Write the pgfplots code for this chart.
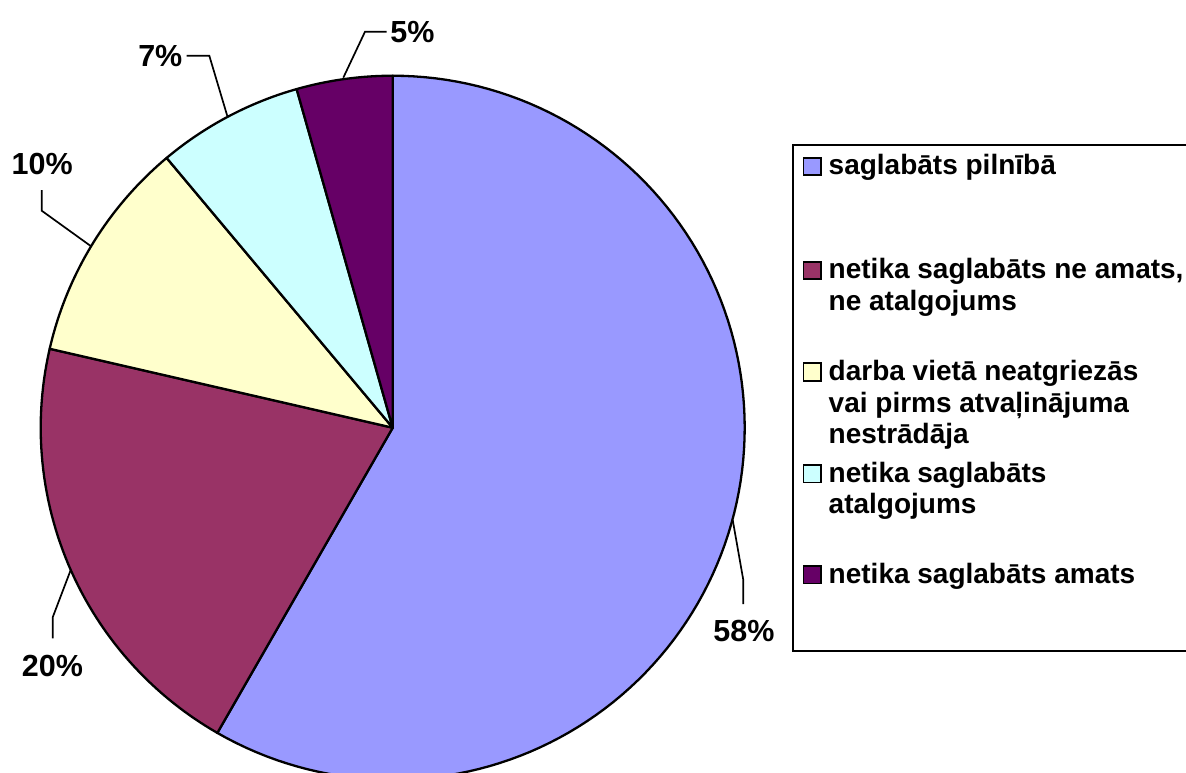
\documentclass[border=0pt]{standalone}
\usepackage{pgfplots}
\pgfplotsset{compat=1.18}
\usepackage{fontspec}
\setmainfont{Liberation Sans}
\definecolor{cLav}{HTML}{9999FF}
\definecolor{cMar}{HTML}{993366}
\definecolor{cYel}{HTML}{FFFFCC}
\definecolor{cCya}{HTML}{CCFFFF}
\definecolor{cPur}{HTML}{660066}
% shares (percent), clockwise from 12 o'clock
\def\vA{58.3}\def\vB{20.3}\def\vC{10.3}\def\vD{6.7}\def\vE{4.4}
\pgfmathsetmacro{\aA}{90-3.6*\vA}
\pgfmathsetmacro{\aB}{\aA-3.6*\vB}
\pgfmathsetmacro{\aC}{\aB-3.6*\vC}
\pgfmathsetmacro{\aD}{\aC-3.6*\vD}
\pgfmathsetmacro{\aE}{\aD-3.6*\vE}
\newcommand{\lab}{\fontsize{15.25}{18}\selectfont\bfseries}
\newcommand{\leg}{\fontsize{14}{15.85}\selectfont\bfseries}
\begin{document}
\begin{tikzpicture}[x=0.5pt,y=-0.5pt]
\useasboundingbox (0,0) rectangle (1186,772);
\clip (0,0) rectangle (1186,772);
\begin{axis}[at={(196.35pt,-213.85pt)}, anchor=origin,
  x=176pt, y=176pt, xmin=-1.05, xmax=1.05, ymin=-1.05, ymax=1.05,
  hide axis, clip=false]
\addplot[fill=cLav, draw=black, line width=1.15pt, line join=round, domain=\aA:90, samples=120, variable=\t] ({cos(\t)},{sin(\t)}) -- (axis cs:0,0) -- cycle;
\addplot[fill=cMar, draw=black, line width=1.15pt, line join=round, domain=\aB:\aA, samples=60, variable=\t] ({cos(\t)},{sin(\t)}) -- (axis cs:0,0) -- cycle;
\addplot[fill=cYel, draw=black, line width=1.15pt, line join=round, domain=\aC:\aB, samples=40, variable=\t] ({cos(\t)},{sin(\t)}) -- (axis cs:0,0) -- cycle;
\addplot[fill=cCya, draw=black, line width=1.15pt, line join=round, domain=\aD:\aC, samples=30, variable=\t] ({cos(\t)},{sin(\t)}) -- (axis cs:0,0) -- cycle;
\addplot[fill=cPur, draw=black, line width=1.15pt, line join=round, domain=\aE:\aD, samples=30, variable=\t] ({cos(\t)},{sin(\t)}) -- (axis cs:0,0) -- cycle;
\end{axis}
% leader lines
\draw[line width=0.85pt] (732.7,520) -- (743.3,580) -- (743.3,604);
\draw[line width=0.85pt] (343.3,77.7) -- (365,31.7) -- (386.7,31.7);
\draw[line width=0.85pt] (227.3,116) -- (209.3,55.7) -- (186.7,55.7);
\draw[line width=0.85pt] (90.7,246) -- (41.7,210.7) -- (41.7,190);
\draw[line width=0.85pt] (70.7,570) -- (52.7,617.3) -- (52.7,638.3);
% data labels
\node[anchor=base, inner sep=0] at (744,641.7) {\lab 58\%};
\node[anchor=base, inner sep=0] at (52.5,676) {\lab 20\%};
\node[anchor=base, inner sep=0] at (42.2,174) {\lab 10\%};
\node[anchor=base, inner sep=0] at (160.3,66.7) {\lab 7\%};
\node[anchor=base, inner sep=0] at (412.5,42.7) {\lab 5\%};
% legend
\draw[line width=0.95pt] (1200,145) -- (793.3,145) -- (793.3,650.7) -- (1200,650.7);
\draw[line width=0.9pt, fill=cLav] (803.5,157.7) rectangle (821,175.2);
\draw[line width=0.9pt, fill=cMar] (803.5,261.6) rectangle (821,279.1);
\draw[line width=0.9pt, fill=cYel] (803.5,363.3) rectangle (821,380.8);
\draw[line width=0.9pt, fill=cCya] (803.5,465) rectangle (821,482.5);
\draw[line width=0.9pt, fill=cPur] (803.5,566) rectangle (821,583.5);
\node[anchor=base west, inner sep=0] at (828.3,174.7) {\leg saglabāts pilnībā};
\node[anchor=base west, inner sep=0] at (828.3,278.6) {\leg netika saglabāts ne amats,};
\node[anchor=base west, inner sep=0] at (828.3,310.3) {\leg ne atalgojums};
\node[anchor=base west, inner sep=0] at (828.3,380.3) {\leg darba vietā neatgriezās};
\node[anchor=base west, inner sep=0] at (828.3,412) {\leg vai pirms atvaļinājuma};
\node[anchor=base west, inner sep=0] at (828.3,443.7) {\leg nestrādāja};
\node[anchor=base west, inner sep=0] at (828.3,482) {\leg netika saglabāts};
\node[anchor=base west, inner sep=0] at (828.3,513.7) {\leg atalgojums};
\node[anchor=base west, inner sep=0] at (828.3,583) {\leg netika saglabāts amats};
\end{tikzpicture}
\end{document}
